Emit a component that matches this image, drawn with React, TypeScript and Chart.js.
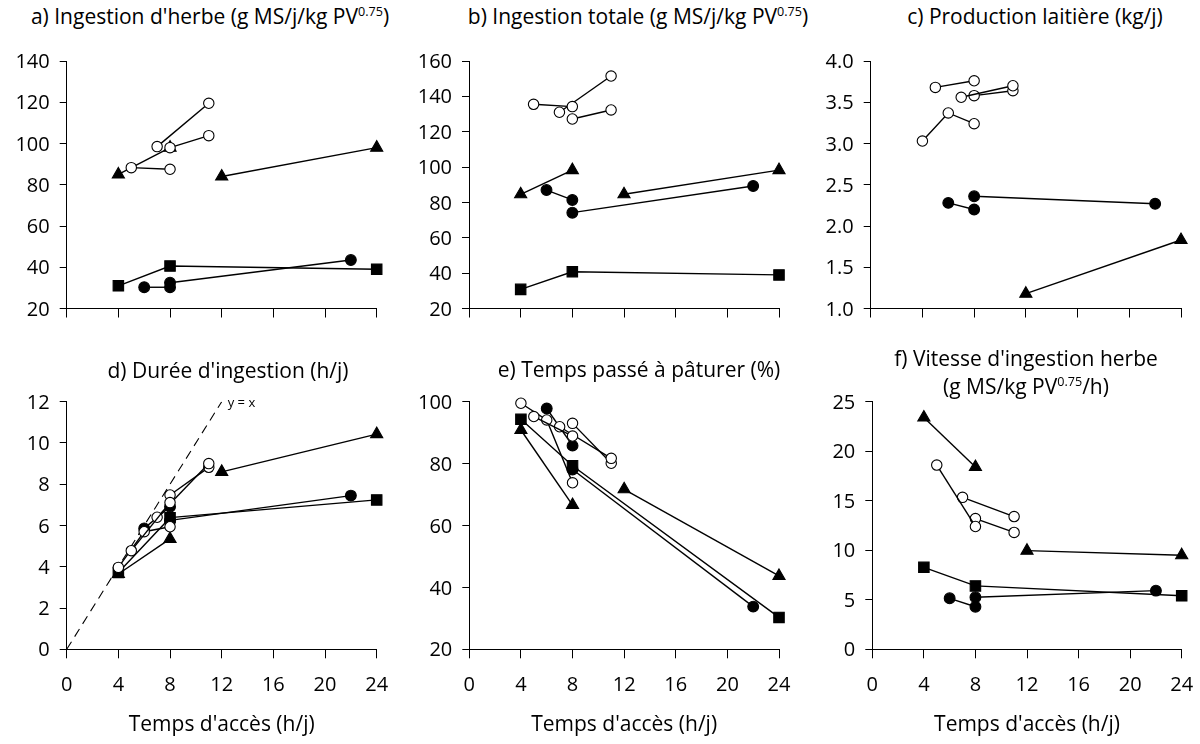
import React, { useEffect, useRef } from "react";
import { Chart, registerables } from "chart.js";

Chart.register(...registerables);

// ---------- Access times (h/j) of each study segment ----------
const xTriA = [4, 8];
const xTriB = [12, 24];
const xSq = [4, 8, 24];
const xFcA = [6, 8];
const xFcB = [8, 22];
const xOcA = [5, 8];
const xOcB = [7, 11];
const xOcC = [8, 11];
const xOcD = [4, 6, 8];

// ---------- a) Ingestion d'herbe ----------
const aTriA = [85, 98];
const aTriB = [84, 98];
const aSq = [31, 40.6, 39];
const aFcA = [30.3, 30.3];
const aFcB = [32.5, 43.5];
const aOcA = [88.3, 87.5];
const aOcB = [98.5, 119.5];
const aOcC = [98, 103.8];

// ---------- b) Ingestion totale ----------
const bTriA = [84.6, 98.3];
const bTriB = [84.6, 98.3];
const bSq = [30.8, 40.8, 39];
const bFcA = [87, 81.4];
const bFcB = [74.2, 89.3];
const bOcA = [135.5, 134.2];
const bOcB = [131, 151.5];
const bOcC = [127.2, 132.3];

// ---------- c) Production laitière ----------
const cTriB = [1.18, 1.83];
const cFcA = [2.28, 2.2];
const cFcB = [2.36, 2.27];
const cOcA = [3.68, 3.76];
const cOcB = [3.56, 3.7];
const cOcC = [3.58, 3.64];
const cOcD = [3.03, 3.37, 3.24];

// ---------- d) Durée d'ingestion ----------
const dTriA = [3.65, 5.35];
const dTriB = [8.6, 10.43];
const dSq = [3.72, 6.38, 7.24];
const dFcA = [5.86, 6.91];
const dFcB = [6.25, 7.45];
const dOcA = [4.78, 7.11];
const dOcB = [6.4, 9.0];
const dOcC = [7.48, 8.82];
const dOcD = [3.97, 5.7, 5.94];
const yxLine = [0, 12];

// ---------- e) Temps passé à pâturer ----------
const eTriA = [90.85, 66.6];
const eTriB = [71.7, 43.7];
const eSq = [94.3, 79.3, 30.3];
const eFcA = [97.8, 85.8];
const eFcB = [78.1, 33.8];
const eOcA = [95.2, 88.9];
const eOcB = [91.9, 81.7];
const eOcC = [93, 80.1];
const eOcD = [99.5, 94.1, 73.8];

// ---------- f) Vitesse d'ingestion herbe ----------
const fTriA = [23.4, 18.4];
const fTriB = [9.96, 9.5];
const fSq = [8.28, 6.4, 5.4];
const fFcA = [5.15, 4.3];
const fFcB = [5.25, 5.92];
const fOcA = [18.6, 12.4];
const fOcB = [15.34, 13.4];
const fOcC = [13.2, 11.8];

// ---------- axis ranges [min, max, step] ----------
const xRange = [0, 24, 4];
const aRange = [20, 140, 20];
const bRange = [20, 160, 20];
const cRange = [1, 4, 0.5];
const dRange = [0, 12, 2];
const eRange = [20, 100, 20];
const fRange = [0, 25, 5];

const FONT = '"Open Sans", "DejaVu Sans", sans-serif';
const TICK_SIZE = 20;
const TITLE_SIZE = 21;
const xTitle = "Temps d'accès (h/j)";

type Kind = "oc" | "fc" | "sq" | "tri";
type Seg = { x: number[]; y: number[]; kind: Kind };

const kindStyle: Record<Kind, any> = {
  oc: { pointStyle: "circle", pointRadius: 5.2, pointBackgroundColor: "#ffffff" },
  fc: { pointStyle: "circle", pointRadius: 5.4, pointBackgroundColor: "#000000" },
  sq: { pointStyle: "rect", pointRadius: 7.4, pointBackgroundColor: "#000000" },
  tri: { pointStyle: "triangle", pointRadius: 7, pointBackgroundColor: "#000000" },
};

// order: first dataset is drawn on top in Chart.js
const segs = (
  oc: [number[], number[]][],
  fc: [number[], number[]][],
  sq: [number[], number[]][],
  tri: [number[], number[]][]
): Seg[] => [
  ...oc.map(([x, y]) => ({ x, y, kind: "oc" as Kind })),
  ...fc.map(([x, y]) => ({ x, y, kind: "fc" as Kind })),
  ...sq.map(([x, y]) => ({ x, y, kind: "sq" as Kind })),
  ...tri.map(([x, y]) => ({ x, y, kind: "tri" as Kind })),
];

type PanelSpec = {
  id: string;
  left: number;
  top: number;
  w: number;
  h: number;
  yW: number;
  padR: number;
  padT: number;
  xH: number;
  showX: boolean;
  range: number[];
  decimals: number;
  series: Seg[];
  yx?: boolean;
};

const TOP_T = 30;
const TOP_H = 310;
const BOT_T = 380;
const BOT_H = 364;

const panels: PanelSpec[] = [
  {
    id: "a", left: 0, top: TOP_T, w: 400, h: TOP_H, yW: 66.7, padR: 23.3, padT: 31, xH: 31.5, showX: false,
    range: aRange, decimals: 0,
    series: segs(
      [[xOcA, aOcA], [xOcB, aOcB], [xOcC, aOcC]],
      [[xFcA, aFcA], [xFcB, aFcB]],
      [[xSq, aSq]],
      [[xTriA, aTriA], [xTriB, aTriB]]
    ),
  },
  {
    id: "b", left: 400, top: TOP_T, w: 400, h: TOP_H, yW: 69, padR: 21, padT: 31, xH: 31.5, showX: false,
    range: bRange, decimals: 0,
    series: segs(
      [[xOcA, bOcA], [xOcB, bOcB], [xOcC, bOcC]],
      [[xFcA, bFcA], [xFcB, bFcB]],
      [[xSq, bSq]],
      [[xTriA, bTriA], [xTriB, bTriB]]
    ),
  },
  {
    id: "c", left: 800, top: TOP_T, w: 400, h: TOP_H, yW: 70.7, padR: 19, padT: 31, xH: 31.5, showX: false,
    range: cRange, decimals: 1,
    series: segs(
      [[xOcA, cOcA], [xOcB, cOcB], [xOcC, cOcC], [xOcD, cOcD]],
      [[xFcA, cFcA], [xFcB, cFcB]],
      [],
      [[xTriB, cTriB]]
    ),
  },
  {
    id: "d", left: 0, top: BOT_T, w: 400, h: BOT_H, yW: 66.7, padR: 23.3, padT: 21.7, xH: 94.7, showX: true,
    range: dRange, decimals: 0, yx: true,
    series: segs(
      [[xOcA, dOcA], [xOcB, dOcB], [xOcC, dOcC], [xOcD, dOcD]],
      [[xFcA, dFcA], [xFcB, dFcB]],
      [[xSq, dSq]],
      [[xTriA, dTriA], [xTriB, dTriB]]
    ),
  },
  {
    id: "e", left: 400, top: BOT_T, w: 400, h: BOT_H, yW: 69.3, padR: 21, padT: 21.7, xH: 94.7, showX: true,
    range: eRange, decimals: 0,
    series: segs(
      [[xOcA, eOcA], [xOcB, eOcB], [xOcC, eOcC], [xOcD, eOcD]],
      [[xFcA, eFcA], [xFcB, eFcB]],
      [[xSq, eSq]],
      [[xTriA, eTriA], [xTriB, eTriB]]
    ),
  },
  {
    id: "f", left: 800, top: BOT_T, w: 400, h: BOT_H, yW: 72.3, padR: 18.3, padT: 21.7, xH: 94.7, showX: true,
    range: fRange, decimals: 0,
    series: segs(
      [[xOcA, fOcA], [xOcB, fOcB], [xOcC, fOcC]],
      [[xFcA, fFcA], [xFcB, fFcB]],
      [[xSq, fSq]],
      [[xTriA, fTriA], [xTriB, fTriB]]
    ),
  },
];

// Draws the tick labels of the scales at fixed offsets from the axes
const tickLabelPlugin = {
  id: "tickLabels",
  afterDraw(chart: any, _args: any, opts: any) {
    const { ctx, chartArea, scales } = chart;
    const digitHalf = TICK_SIZE * 0.357;
    ctx.save();
    ctx.font = `${TICK_SIZE}px ${FONT}`;
    ctx.fillStyle = "#000";
    ctx.textBaseline = "alphabetic";
    ctx.textAlign = "right";
    scales.y.ticks.forEach((t: any) => {
      const py = scales.y.getPixelForValue(t.value);
      ctx.fillText(Number(t.value).toFixed(opts.decimals), chartArea.left - 17, py + digitHalf);
    });
    if (opts.showX) {
      ctx.textAlign = "center";
      scales.x.ticks.forEach((t: any) => {
        const px = scales.x.getPixelForValue(t.value);
        ctx.fillText(String(t.value), px, chartArea.bottom + 34.5 + digitHalf);
      });
    }
    ctx.restore();
  },
};

const yxLabelPlugin = {
  id: "yxLabel",
  afterDatasetsDraw(chart: any) {
    const { ctx, scales } = chart;
    const px = scales.x.getPixelForValue(yxLine[1]);
    const py = scales.y.getPixelForValue(yxLine[1]);
    ctx.save();
    ctx.font = `13px ${FONT}`;
    ctx.fillStyle = "#000";
    ctx.textAlign = "left";
    ctx.textBaseline = "middle";
    ctx.fillText("y = x", px + 6, py + 2);
    ctx.restore();
  },
};

function buildConfig(p: PanelSpec): any {
  const datasets: any[] = p.series.map((s) => ({
    data: s.x.map((x, i) => ({ x, y: s.y[i] })),
    showLine: true,
    borderColor: "#000",
    borderWidth: 1.4,
    pointBorderColor: "#000",
    pointBorderWidth: 1.1,
    tension: 0,
    fill: false,
    clip: false,
    ...kindStyle[s.kind],
  }));
  if (p.yx) {
    datasets.push({
      data: yxLine.map((v) => ({ x: v, y: v })),
      showLine: true,
      borderColor: "#000",
      borderWidth: 1.1,
      borderDash: [9, 6],
      pointRadius: 0,
      fill: false,
    });
  }
  return {
    type: "line",
    data: { datasets },
    options: {
      animation: false,
      responsive: false,
      maintainAspectRatio: false,
      events: [],
      layout: { padding: { top: p.padT, right: p.padR, left: 0, bottom: 0 } },
      plugins: {
        legend: { display: false },
        tooltip: { enabled: false },
        title: { display: false },
        tickLabels: { showX: p.showX, decimals: p.decimals },
      },
      scales: {
        x: {
          type: "linear",
          min: xRange[0],
          max: xRange[1],
          ticks: { stepSize: xRange[2], display: false },
          grid: { drawOnChartArea: false, drawTicks: true, tickLength: 9, color: "#000", lineWidth: 1 },
          border: { display: true, color: "#000", width: 1 },
          title: {
            display: p.showX,
            text: xTitle,
            color: "#000",
            font: { family: FONT, size: TITLE_SIZE },
            padding: { top: 0, bottom: 6 },
          },
          afterFit: (s: any) => {
            s.height = p.xH;
          },
        },
        y: {
          type: "linear",
          min: p.range[0],
          max: p.range[1],
          ticks: { stepSize: p.range[2], display: false },
          grid: { drawOnChartArea: false, drawTicks: true, tickLength: 7, color: "#000", lineWidth: 1 },
          border: { display: true, color: "#000", width: 1 },
          afterFit: (s: any) => {
            s.width = p.yW;
          },
        },
      },
    },
    plugins: p.yx ? [tickLabelPlugin, yxLabelPlugin] : [tickLabelPlugin],
  };
}

function Panel({ spec }: { spec: PanelSpec }) {
  const ref = useRef<HTMLCanvasElement>(null);
  useEffect(() => {
    if (!ref.current) return;
    const chart = new Chart(ref.current, buildConfig(spec));
    return () => chart.destroy();
  }, [spec]);
  return (
    <div style={{ position: "absolute", left: spec.left, top: spec.top, width: spec.w, height: spec.h }}>
      <canvas ref={ref} width={spec.w} height={spec.h} />
    </div>
  );
}

const supStyle: React.CSSProperties = { fontSize: "0.6em", verticalAlign: "0.65em", lineHeight: 0 };

function Title({ cx, top, lh, children }: { cx: number; top: number; lh: number; children: React.ReactNode }) {
  return (
    <div
      style={{
        position: "absolute",
        left: cx,
        top,
        transform: "translateX(-50%)",
        whiteSpace: "nowrap",
        textAlign: "center",
        fontFamily: FONT,
        fontSize: TITLE_SIZE,
        lineHeight: `${lh}px`,
        color: "#000",
      }}
    >
      {children}
    </div>
  );
}

export default function App() {
  return (
    <div style={{ position: "absolute", left: 0, top: 0, width: 1200, height: 744, background: "#fff", overflow: "hidden" }}>
      {panels.map((p) => (
        <Panel key={p.id} spec={p} />
      ))}
      <Title cx={210} top={6} lh={21}>
        a) Ingestion d'herbe (g MS/j/kg PV<span style={supStyle}>0.75</span>)
      </Title>
      <Title cx={638} top={6} lh={21}>
        b) Ingestion totale (g MS/j/kg PV<span style={supStyle}>0.75</span>)
      </Title>
      <Title cx={1035} top={6} lh={21}>
        c) Production laitière (kg/j)
      </Title>
      <Title cx={228} top={360} lh={21}>
        d) Durée d'ingestion (h/j)
      </Title>
      <Title cx={639} top={359} lh={21}>
        e) Temps passé à pâturer (%)
      </Title>
      <Title cx={1026} top={345} lh={27.5}>
        f) Vitesse d'ingestion herbe
        <br />
        (g MS/kg PV<span style={supStyle}>0.75</span>/h)
      </Title>
    </div>
  );
}
